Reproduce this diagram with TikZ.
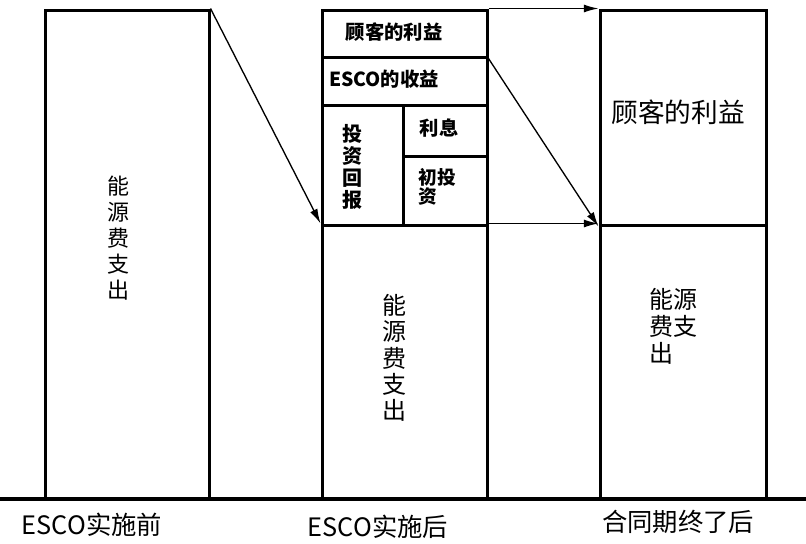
\documentclass[tikz,border=0pt]{standalone}
\usepackage{fontspec}
\setmainfont{Noto Sans CJK SC}
\usetikzlibrary{arrows.meta}

\begin{document}
\begin{tikzpicture}[x=0.75pt,y=-0.75pt,
  bx/.style={draw,line width=2.25pt,inner sep=0pt},
  cell/.style={font=\fontsize{14.5}{15}\selectfont\bfseries,align=left,inner sep=0pt},
  vt/.style={align=center,inner sep=0pt},
  lab/.style={font=\fontsize{19}{20}\selectfont,inner sep=0pt},
  ar/.style={line width=1pt,-{Latex[length=11pt,width=6pt]}}]
\useasboundingbox (0,0) rectangle (806,543);
% columns
\node[bx,minimum width=123pt,minimum height=366.75pt] (pre) at (127,254.5) {};
\node[bx,minimum width=123.75pt,minimum height=35.25pt] (cust) at (404.5,33.5) {};
\node[bx,minimum width=123.75pt,minimum height=36pt] (esco) at (404.5,81) {};
\node[bx,minimum width=60.75pt,minimum height=90pt] (ret) at (362.5,165) {};
\node[bx,minimum width=63pt,minimum height=38.25pt] (intr) at (445,130.5) {};
\node[bx,minimum width=63pt,minimum height=51.75pt] (init) at (445,190.5) {};
\node[bx,minimum width=123.75pt,minimum height=205.5pt] (post) at (404.5,362) {};
\node[bx,minimum width=124.5pt,minimum height=161.25pt] (gain) at (683,117.5) {};
\node[bx,minimum width=124.5pt,minimum height=205.5pt] (rest) at (683,362) {};
% texts
\node[vt,font=\fontsize{16.5}{19.5}\selectfont] (preT) at (118,238) {能\\源\\费\\支\\出};
\node[cell] (custT) at (394,32) {顾客的利益};
\node[cell] (escoT) at (384,79) {ESCO的收益};
\node[vt,font=\fontsize{15}{16.7}\selectfont\bfseries] (retT) at (352,167) {投\\资\\回\\报};
\node[cell] (intrT) at (439,128) {利息};
\node[cell,font=\fontsize{14}{14}\selectfont\bfseries] (initT) at (437,187) {初投\\资};
\node[vt,font=\fontsize{18}{19.8}\selectfont] (postT) at (394,358) {能\\源\\费\\支\\出};
\node[inner sep=0pt,font=\fontsize{20}{21}\selectfont] (gainT) at (678,112) {顾客的利益};
\node[inner sep=0pt,align=left,font=\fontsize{18}{20.25}\selectfont] (restT) at (673,326) {能源\\费支\\出};
% ground
\coordinate (g0) at (0,499);
\coordinate (g1) at (806,499);
\draw[line width=3pt] (g0) -- (g1);
\node[lab] (l1) at (92,525) {ESCO实施前};
\node[lab] (l2) at (378,527) {ESCO实施后};
\node[lab] (l3) at (678,522) {合同期终了后};
% arrows
\draw[ar] (pre.north east) -- (post.north west);
\draw[ar] (cust.north east) -- (gain.north west);
\draw[ar] (cust.south east) -- (gain.south west);
\draw[ar] (post.north east) -- (rest.north west);
\end{tikzpicture}
\end{document}
